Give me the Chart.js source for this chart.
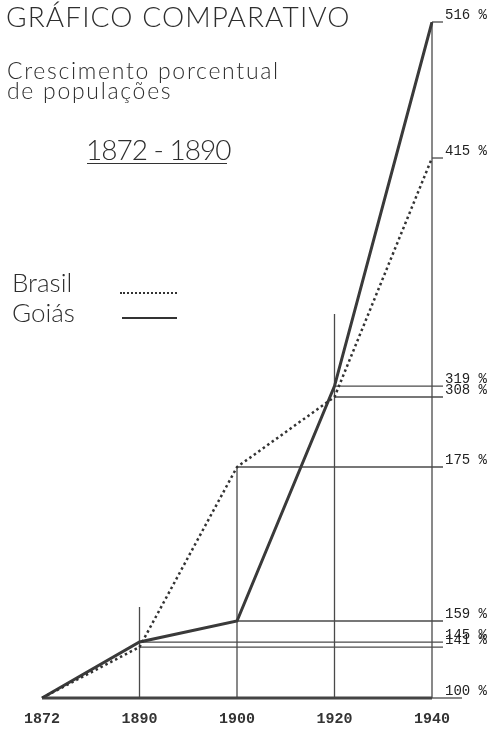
<!DOCTYPE html>
<html>
<head>
<meta charset="utf-8">
<script src="https://cdn.jsdelivr.net/npm/chart.js@4.4.1/dist/chart.umd.min.js"></script>
<style>
body { margin: 0; background: #fff; }
#wrap { position: relative; width: 494px; height: 741px; }
.t { position: absolute; font-family: Lato, 'Open Sans', sans-serif; font-weight: 300; color: #2e2e2e; white-space: nowrap; line-height: 1; }
.rule { position: absolute; }
</style>
</head>
<body>
<div id="wrap">
  <canvas id="chart"></canvas>
  <div class="t" style="left:6px;top:2px;font-size:28px;letter-spacing:1.1px">GRÁFICO COMPARATIVO</div>
  <div class="t" style="left:7px;top:59px;font-size:23px;letter-spacing:1.7px">Crescimento porcentual</div>
  <div class="t" style="left:7px;top:79px;font-size:23px;letter-spacing:1.7px">de populações</div>
  <div class="t" style="left:86px;top:135px;font-size:28px;letter-spacing:-1px">1872 - 1890</div>
  <div class="rule" style="left:87px;top:163px;width:140px;border-top:1.5px solid #333"></div>
  <div class="t" style="left:12px;top:269px;font-size:26px">Brasil</div>
  <div class="t" style="left:12px;top:299px;font-size:26px">Goiás</div>
  <div class="rule" style="left:120px;top:292px;width:57px;border-top:2px dotted #333"></div>
  <div class="rule" style="left:122px;top:317px;width:55px;border-top:2.5px solid #333"></div>
</div>
<script>
// values (percent of 1872 population)
var years = ['1872', '1890', '1900', '1920', '1940'];
var brasil = [100, 141, 175, 308, 415];
var goias = [100, 145, 159, 319, 516];
var yTicks = [100, 141, 145, 159, 175, 308, 319, 415, 516];

// the original axis is hand drawn and not to scale: map value -> share of height
class BentScale extends Chart.LinearScale {
  getPixelForValue(value) {
    var marks = this.options.marks, at = this.options.spacing;
    if (value == null || isNaN(value)) return NaN;
    var frac = 0;
    if (value <= marks[0]) frac = at[0];
    else if (value >= marks[marks.length - 1]) frac = at[at.length - 1];
    else {
      for (var i = 1; i < marks.length; i++) {
        if (value <= marks[i]) {
          var f = (value - marks[i - 1]) / (marks[i] - marks[i - 1]);
          frac = at[i - 1] + f * (at[i] - at[i - 1]);
          break;
        }
      }
    }
    return this.getPixelForDecimal(frac);
  }
  getValueForPixel(pixel) {
    var marks = this.options.marks, at = this.options.spacing;
    var d = this.getDecimalForPixel(pixel);
    for (var i = 1; i < at.length; i++) {
      if (d <= at[i]) {
        var f = (d - at[i - 1]) / (at[i] - at[i - 1]);
        return marks[i - 1] + f * (marks[i] - marks[i - 1]);
      }
    }
    return marks[marks.length - 1];
  }
}
BentScale.id = 'bent';
Chart.register(BentScale);

var thin = '#4a4a4a';

// vertical lines at each year and horizontal lines from each point to the value axis
var guides = {
  id: 'guides',
  beforeDatasetsDraw: function(chart, args, opts) {
    var ctx = chart.ctx, x = chart.scales.x, y = chart.scales.y, area = chart.chartArea;
    ctx.save();
    ctx.strokeStyle = thin;
    ctx.lineWidth = 1.3;
    years.forEach(function(yr, i) {
      if (i === 0) return;
      var px = x.getPixelForValue(i);
      var top = y.getPixelForValue(Math.max(brasil[i], goias[i])) - opts.overshoot[i];
      ctx.beginPath();
      ctx.moveTo(px, top);
      ctx.lineTo(px, area.bottom);
      ctx.stroke();
      [brasil[i], goias[i]].forEach(function(v) {
        var py = y.getPixelForValue(v);
        ctx.beginPath();
        ctx.moveTo(px, py);
        ctx.lineTo(area.right + 11, py);
        ctx.stroke();
      });
    });
    // base line at 100 %
    var by = y.getPixelForValue(yTicks[0]);
    ctx.beginPath();
    ctx.moveTo(area.right, by);
    ctx.lineTo(area.right + 30, by);
    ctx.stroke();
    ctx.lineWidth = 3;
    ctx.strokeStyle = '#444';
    ctx.beginPath();
    ctx.moveTo(area.left, by);
    ctx.lineTo(area.right, by);
    ctx.stroke();
    ctx.restore();
  }
};

new Chart(document.getElementById('chart'), {
  type: 'line',
  data: {
    labels: years,
    datasets: [
      {
        label: 'Brasil',
        data: brasil,
        borderColor: '#333',
        borderWidth: 2.5,
        borderDash: [2.5, 3],
        pointRadius: 0,
        tension: 0
      },
      {
        label: 'Goiás',
        data: goias,
        borderColor: '#3a3a3a',
        borderWidth: 3,
        pointRadius: 0,
        tension: 0
      }
    ]
  },
  options: {
    responsive: true,
    maintainAspectRatio: false,
    animation: false,
    events: [],
    layout: { padding: { left: 42, top: 22, right: 0, bottom: 0 } },
    plugins: {
      legend: { display: false },
      tooltip: { enabled: false },
      guides: { overshoot: [0, 35, 0, 72, 0] }
    },
    scales: {
      x: {
        type: 'category',
        offset: false,
        grid: { display: false, drawTicks: false },
        border: { display: false },
        ticks: {
          autoSkip: false,
          maxRotation: 0,
          padding: 12,
          color: '#333',
          font: { family: "'Liberation Mono', 'DejaVu Sans Mono', monospace", size: 15, weight: 'bold' }
        },
        afterFit: function(s) { s.height = 43; }
      },
      y: {
        type: 'bent',
        position: 'right',
        min: yTicks[0],
        max: yTicks[yTicks.length - 1],
        marks: yTicks,
        spacing: [0, 0.0754, 0.0828, 0.1139, 0.3417, 0.4453, 0.4615, 0.7988, 1],
        afterBuildTicks: function(s) {
          s.ticks = yTicks.map(function(v) { return { value: v }; });
        },
        afterFit: function(s) {
          s.width = 62;
          s.paddingTop = 0;
          s.paddingBottom = 0;
        },
        grid: { display: false, drawTicks: false },
        border: { display: false },
        ticks: {
          padding: 13,
          align: 'end',
          color: '#222',
          font: { family: "'Liberation Mono', 'DejaVu Sans Mono', monospace", size: 14 },
          callback: function(v) { return v + ' %'; }
        }
      }
    }
  },
  plugins: [guides]
});
</script>
</body>
</html>
